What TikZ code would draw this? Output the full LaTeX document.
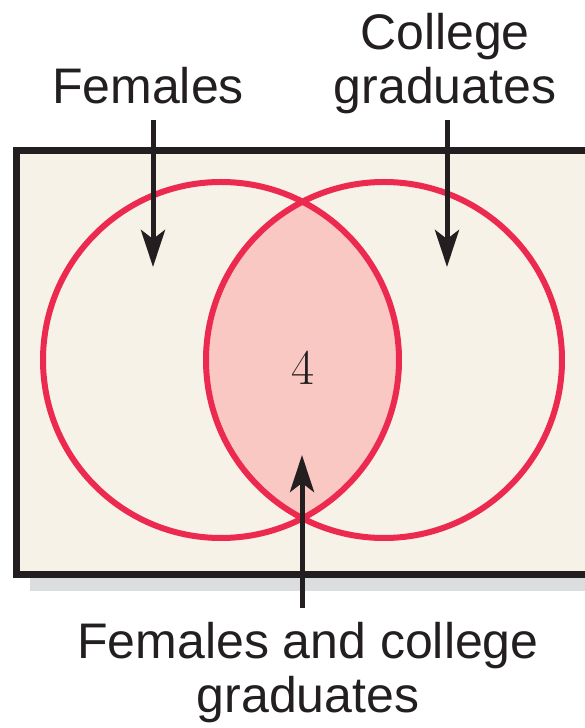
\documentclass[tikz,border=0pt]{standalone}
\usepackage{fontspec}
\setsansfont{Liberation Sans}
\usetikzlibrary{arrows.meta}
\definecolor{cream}{HTML}{F7F2E7}
\definecolor{lens}{HTML}{F9C8C2}
\definecolor{vred}{HTML}{EC2A4F}
\definecolor{ink}{HTML}{231F20}
\definecolor{shadowgray}{HTML}{DCDDDF}
\tikzset{
  lbl/.style={font=\sffamily\fontsize{50}{54}\selectfont, text=ink, align=center, inner sep=0pt},
  ptr/.style={draw=ink, line width=5pt, -{Stealth[length=37pt,width=24pt,inset=9pt]}},
  circ/.style={draw=vred, line width=6pt},
}
\begin{document}
\begin{tikzpicture}[x=1pt,y=1pt]
\useasboundingbox (0,0) rectangle (585,728);
\clip (0,0) rectangle (585,728);
% shadow
\fill[shadowgray] (30,137) rectangle (600,151);
% box
\node[draw=ink, fill=cream, line width=7pt, minimum width=600pt, minimum height=424pt, anchor=north west, inner sep=0pt, outer sep=0pt] (box) at (16.5,577.5) {};
% lens
\coordinate (cl) at (221,368);
\coordinate (cr) at (384,368);
\begin{scope}
  \clip (cl) circle (178);
  \fill[lens] (cr) circle (178);
\end{scope}
\draw[circ] (cl) circle (178);
\draw[circ] (cr) circle (178);
\node[font=\fontsize{50}{56}\selectfont, text=ink, inner sep=0pt] (four) at (303,360) {4};
% labels
\node[lbl] (fem) at (148,642) {Females};
\node[lbl] (col) at (445,664) {College\\graduates};
\node[lbl] (both) at (308,55) {Females and college\\graduates};
% arrow targets
\coordinate (ft) at (153,461);
\coordinate (ct) at (447,461);
\coordinate (bt) at (302,273);
\coordinate (fs) at (153,608);
\coordinate (cs) at (447,608);
\coordinate (bs) at (302,120);
\draw[ptr] (fs) -- (ft);
\draw[ptr] (cs) -- (ct);
\draw[ptr] (bs) -- (bt);
\end{tikzpicture}
\end{document}
